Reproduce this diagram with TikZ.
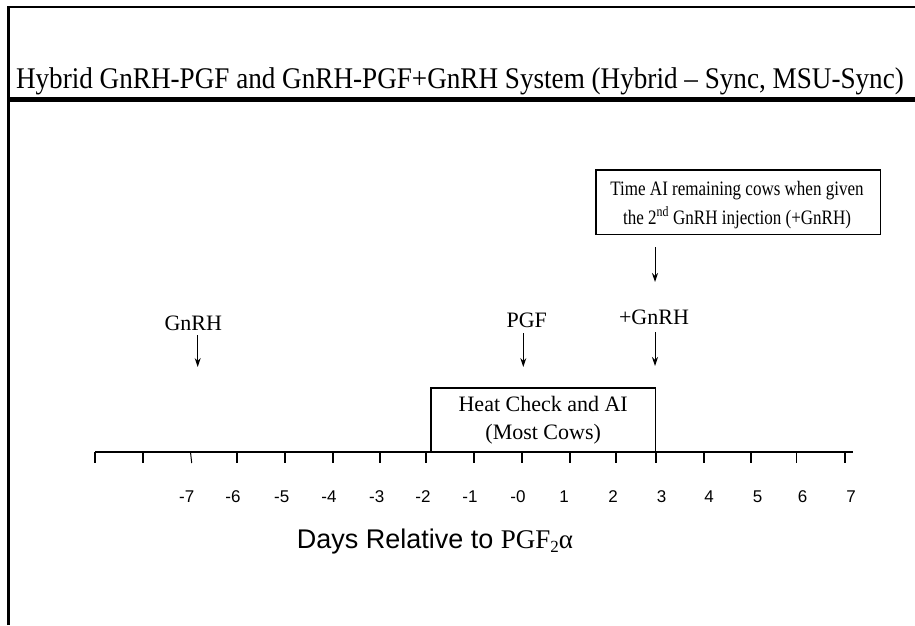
\documentclass[tikz,border=0pt]{standalone}
\usepackage{fontspec}
\setmainfont{Liberation Serif}
\setsansfont{Liberation Sans}
\usetikzlibrary{arrows.meta}
\begin{document}
\begin{tikzpicture}[x=1pt,y=-1pt,
  frameline/.style={line width=2.5pt},
  arr/.style={-{Stealth[length=9pt,width=6pt]}, line width=1pt},
  boxnode/.style={draw, line width=1.2pt, align=center, inner sep=0pt, font=\fontsize{22}{28}\selectfont},
  lbl/.style={inner sep=0pt, font=\fontsize{22}{26}\selectfont},
  ticklbl/.style={inner sep=0pt, font=\sffamily\fontsize{17}{20}\selectfont},
  tickmark/.style={line width=1.8pt}]
\useasboundingbox (0,0) rectangle (915,625);
% frame
\draw[frameline] (8.5,625) -- (8.5,7) -- (915,7);
\draw[line width=4.5pt] (8.5,99.5) -- (915,99.5);
\node[inner sep=0pt, anchor=base, font=\fontsize{30}{34}\selectfont] (title) at (460,88)
  {\scalebox{0.905}[1]{Hybrid GnRH-PGF and GnRH-PGF+GnRH System (Hybrid – Sync, MSU-Sync)}};
% top box
\node[draw, line width=1.2pt, inner sep=0pt, minimum width=284.7pt, minimum height=64.3pt] (tbox) at (738.3,202.2) {};
\node[inner sep=0pt, align=center, font=\fontsize{20.5}{28.3}\selectfont] (ttext) at (737,205)
  {\scalebox{0.83}[1]{Time AI remaining cows when given}\\\scalebox{0.83}[1]{the 2\textsuperscript{nd} GnRH injection (+GnRH)}};
% labels
\node[lbl] (gnrh) at (193.3,323) {GnRH};
\node[lbl] (pgf) at (526.7,320) {PGF};
\node[lbl] (plus) at (654,317) {+GnRH};
% arrows
\coordinate (uA) at (655,247); \coordinate (uB) at (655,282);
\coordinate (gA) at (197.7,335); \coordinate (gB) at (197.7,367);
\coordinate (pA) at (523.3,333); \coordinate (pB) at (523.3,367);
\coordinate (lA) at (655,332); \coordinate (lB) at (655,366);
\draw[arr] (uA) -- (uB);
\draw[arr] (gA) -- (gB);
\draw[arr] (pA) -- (pB);
\draw[arr] (lA) -- (lB);
% heat box
\node[boxnode, minimum width=224.3pt, minimum height=64.3pt] (heat) at (543.2,420.1)
  {Heat Check and AI\\(Most Cows)};
% axis
\draw[line width=1.8pt] (95,452) -- (853,452);
\foreach \x in {95,142.7,236.7,284.7,332.7,380,425.7,474,521.7,570,616,655.7,703.7,751,845}
  \draw[tickmark] (\x,452) -- (\x,463);
\draw[line width=1pt] (190.5,452) -- (191.7,463);
\draw[line width=1pt] (796.7,452) -- (796.7,463);
\node[ticklbl] (t1) at (186.7,497) {-7};
\node[ticklbl] (t2) at (233,497) {-6};
\node[ticklbl] (t3) at (281.7,497) {-5};
\node[ticklbl] (t4) at (329,497) {-4};
\node[ticklbl] (t5) at (376.7,497) {-3};
\node[ticklbl] (t6) at (423,497) {-2};
\node[ticklbl] (t7) at (470,497) {-1};
\node[ticklbl] (t8) at (518,497) {-0};
\node[ticklbl] (t9) at (564,497) {1};
\node[ticklbl] (t10) at (613,497) {2};
\node[ticklbl] (t11) at (661.7,497) {3};
\node[ticklbl] (t12) at (709,497) {4};
\node[ticklbl] (t13) at (757.7,497) {5};
\node[ticklbl] (t14) at (802.7,497) {6};
\node[ticklbl] (t15) at (851,497) {7};
\node[inner sep=0pt, anchor=base, font=\sffamily\fontsize{27}{32}\selectfont] (days) at (435,548)
  {Days Relative to {\rmfamily PGF\raisebox{-4pt}{\fontsize{17}{20}\selectfont 2}α}};
\end{tikzpicture}
\end{document}
